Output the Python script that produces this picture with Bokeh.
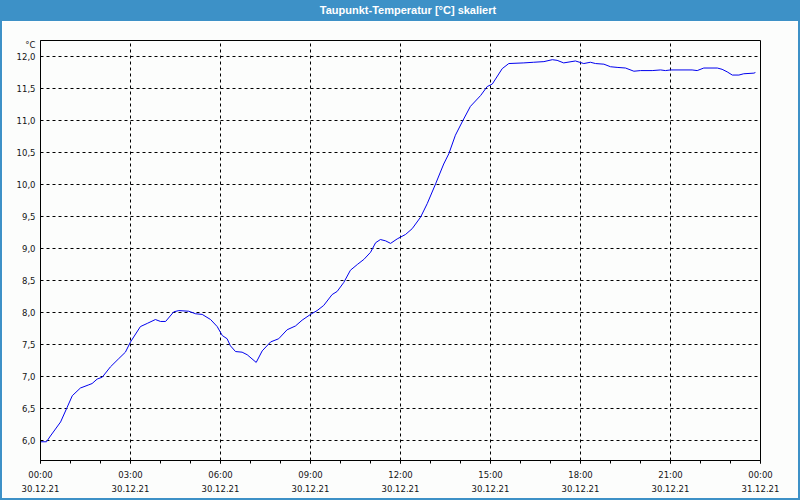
from bokeh.plotting import figure
from bokeh.models import FixedTicker, Range1d, Div
from bokeh.layouts import column, row
from bokeh.embed import file_html
from bokeh.resources import INLINE

# --- data (hours since 30.12.21 00:00, dew point in °C) ---
hours = [0.0, 0.2, 0.33, 0.67, 0.89, 1.06, 1.33, 1.61, 1.72, 1.89, 2.06, 2.33, 2.61, 2.83,
         3.0, 3.33, 3.56, 3.83, 4.0, 4.17, 4.44, 4.61, 4.94, 5.17, 5.39, 5.67, 5.89,
         6.06, 6.22, 6.33, 6.5, 6.72, 6.89, 7.19, 7.39, 7.67, 7.94, 8.22, 8.5, 8.72,
         9.0, 9.22, 9.44, 9.72, 9.89, 10.11, 10.33, 10.56, 10.78, 11.0, 11.17, 11.33,
         11.5, 11.67, 11.89, 12.17, 12.39, 12.67, 12.89, 13.17, 13.44, 13.61, 13.83,
         14.08, 14.33, 14.67, 14.89, 15.06, 15.39, 15.61, 16.11, 16.44, 16.78, 17.06,
         17.22, 17.44, 17.83, 18.11, 18.33, 18.5, 18.78, 19.0, 19.22, 19.5, 19.78,
         20.0, 20.39, 20.67, 20.83, 21.0, 21.72, 21.89, 22.11, 22.56, 22.72, 22.89,
         23.06, 23.28, 23.44, 23.78, 23.83]
dewpoint = [5.98, 5.98, 6.07, 6.29, 6.52, 6.70, 6.82, 6.87, 6.89, 6.96, 6.99, 7.15, 7.28, 7.38,
            7.54, 7.78, 7.83, 7.89, 7.86, 7.86, 8.01, 8.03, 8.02, 7.98, 7.97, 7.89, 7.78,
            7.64, 7.59, 7.48, 7.39, 7.38, 7.34, 7.22, 7.40, 7.54, 7.59, 7.73, 7.79, 7.88,
            7.97, 8.03, 8.11, 8.28, 8.33, 8.47, 8.66, 8.75, 8.83, 8.94, 9.09, 9.14,
            9.12, 9.08, 9.15, 9.22, 9.31, 9.49, 9.70, 10.01, 10.32, 10.48, 10.77,
            11.00, 11.22, 11.39, 11.53, 11.57, 11.81, 11.89, 11.90, 11.91, 11.92, 11.95,
            11.94, 11.90, 11.93, 11.89, 11.91, 11.89, 11.88, 11.84, 11.83, 11.82, 11.77,
            11.78, 11.78, 11.79, 11.78, 11.79, 11.79, 11.78, 11.82, 11.82, 11.80, 11.76,
            11.71, 11.71, 11.73, 11.74, 11.75]

x_ticks = [0, 3, 6, 9, 12, 15, 18, 21, 24]
x_tick_labels = ["00:00\n30.12.21", "03:00\n30.12.21", "06:00\n30.12.21", "09:00\n30.12.21",
                 "12:00\n30.12.21", "15:00\n30.12.21", "18:00\n30.12.21", "21:00\n30.12.21",
                 "00:00\n31.12.21"]
y_ticks = [6, 6.5, 7, 7.5, 8, 8.5, 9, 9.5, 10, 10.5, 11, 11.5, 12]
y_tick_labels = ["6,0", "6,5", "7,0", "7,5", "8,0", "8,5", "9,0", "9,5", "10,0", "10,5",
                 "11,0", "11,5", "12,0"]
unit_pos = 12.18          # where the unit label sits on the value axis
unit_text = "°C"
title_text = "Taupunkt-Temperatur [°C] skaliert"

BG = "#fcfdfc"
BLUE = "#3d91c7"
TXT = "#141414"
FONT = "DejaVu Sans"

p = figure(width=796, height=477, output_backend="svg", toolbar_location=None,
           x_range=Range1d(0, 24), y_range=Range1d(5.6875, 12.25),
           min_border_left=38, min_border_right=38, min_border_top=19, min_border_bottom=38,
           margin=0)
p.background_fill_color = BG
p.border_fill_color = BG
p.outline_line_color = "black"
p.outline_line_width = 1
p.outline_line_alpha = 1

p.line(hours, dewpoint, line_color="#0000ee", line_width=1)

# x axis
xa = p.xaxis[0]
xa.ticker = FixedTicker(ticks=x_ticks, minor_ticks=list(range(25)))
xa.major_label_overrides = {t: lab for t, lab in zip(x_ticks, x_tick_labels)}
xa.axis_line_color = "black"
xa.major_tick_in = 0
xa.major_tick_out = 3
xa.minor_tick_in = 0
xa.minor_tick_out = 3
xa.major_tick_line_color = "black"
xa.minor_tick_line_color = "black"
xa.major_label_text_font = FONT
xa.major_label_text_font_size = "8.5px"
xa.major_label_text_color = TXT
xa.major_label_text_line_height = 1.4
xa.major_label_standoff = 6

# y axis (unit label placed as an extra tick label at the top)
ya = p.yaxis[0]
ya.ticker = FixedTicker(ticks=y_ticks + [unit_pos], minor_ticks=[])
overrides = {t: lab for t, lab in zip(y_ticks, y_tick_labels)}
overrides[unit_pos] = unit_text
ya.major_label_overrides = overrides
ya.axis_line_color = "black"
ya.major_tick_in = 0
ya.major_tick_out = 0
ya.minor_tick_in = 0
ya.minor_tick_out = 0
ya.major_label_text_font = FONT
ya.major_label_text_font_size = "8.5px"
ya.major_label_text_color = TXT
ya.major_label_standoff = 5

for g in (p.xgrid[0], p.ygrid[0]):
    g.grid_line_color = "black"
    g.grid_line_dash = "3 3"
    g.grid_line_width = 1
    g.grid_line_alpha = 1
p.xgrid[0].ticker = FixedTicker(ticks=x_ticks)
p.ygrid[0].ticker = FixedTicker(ticks=y_ticks)

bar = Div(text=title_text, width=800, height=21, margin=0,
          styles={"background-color": BLUE, "color": "white", "font-family": "Liberation Sans",
                  "font-weight": "bold", "font-size": "11px", "text-align": "center",
                  "line-height": "21px", "padding-left": "16px", "box-sizing": "border-box",
                  "width": "800px", "height": "21px", "overflow": "hidden"})
left = Div(text="", width=2, height=477, margin=0, styles={"background-color": BLUE})
right = Div(text="", width=2, height=477, margin=0, styles={"background-color": BLUE})
bottom = Div(text="", width=800, height=2, margin=0, styles={"background-color": BLUE})

layout = column(bar, row(left, p, right, margin=0, spacing=0), bottom, margin=0, spacing=0)

open("out.html", "w").write(file_html(layout, INLINE))
